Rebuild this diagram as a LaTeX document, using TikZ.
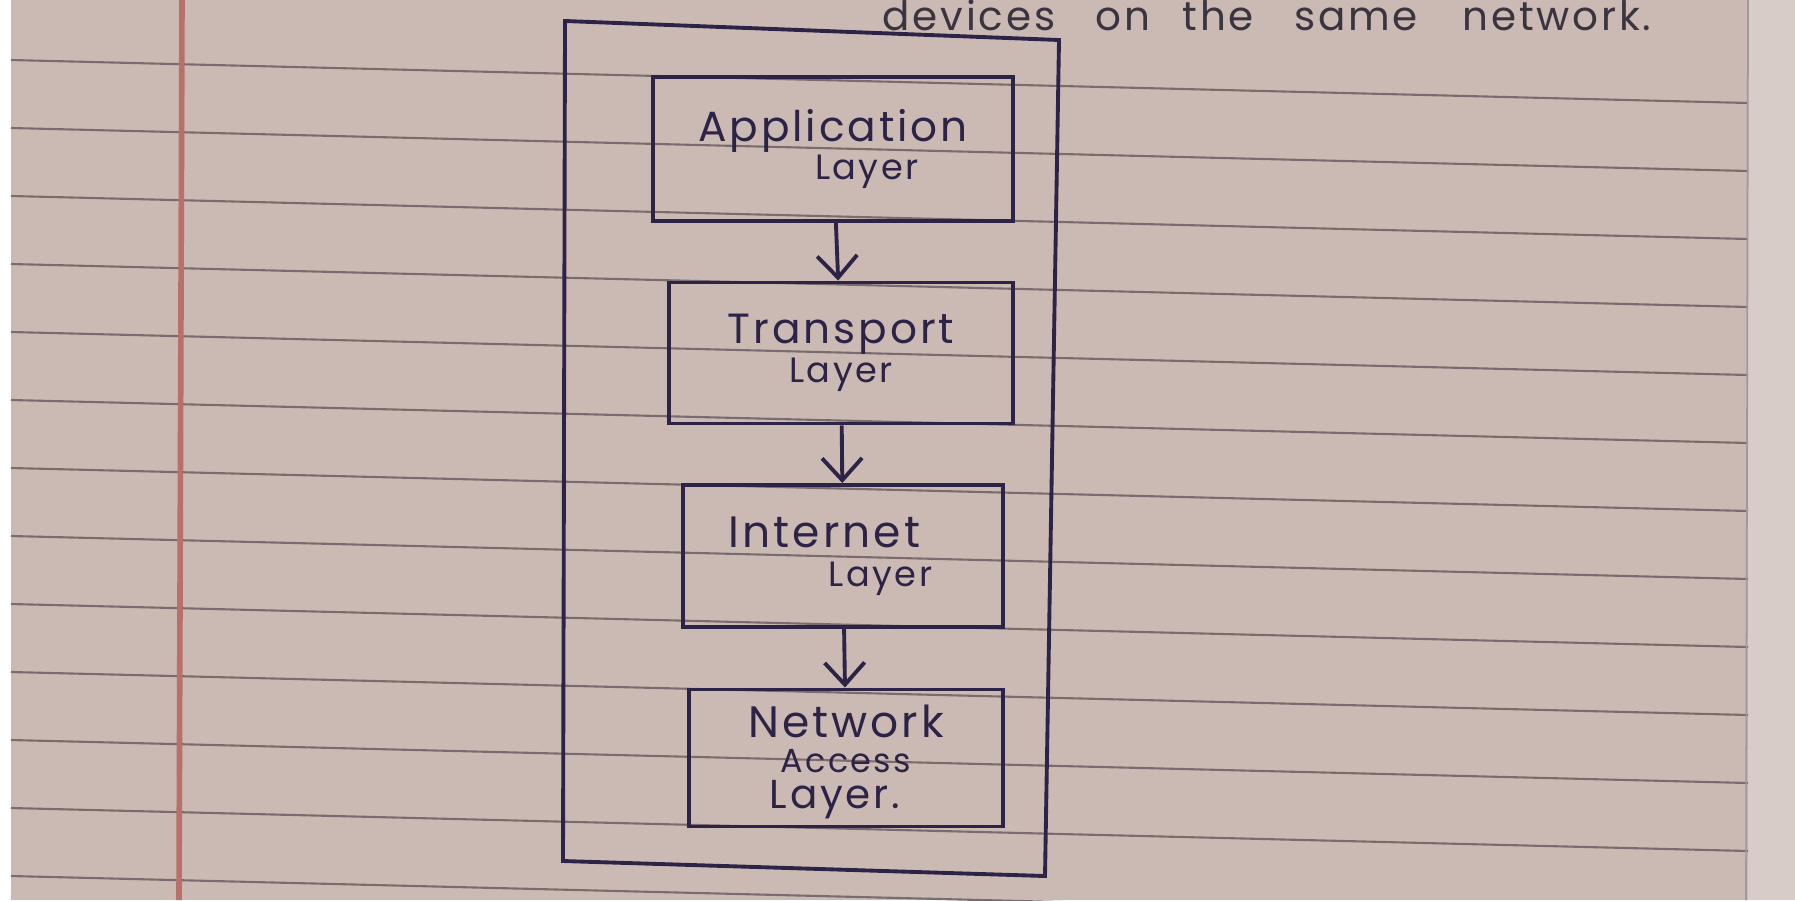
\documentclass[tikz,border=0pt]{standalone}
\usepackage{fontspec}
\newfontfamily\hand[LetterSpace=7]{Poppins}
\usetikzlibrary{arrows.meta,positioning}
\definecolor{paper}{HTML}{CBBAB4}
\definecolor{paperedge}{HTML}{D8CCC9}
\definecolor{rule}{HTML}{7A6B6E}
\definecolor{margin}{HTML}{B9706B}
\definecolor{ink}{HTML}{2D2346}
\definecolor{pencil}{HTML}{3A3440}
\tikzset{
    layer/.style={draw=ink, line width=1.1pt, rectangle, align=center, text=ink, inner sep=0pt,
      font=\hand\fontsize{12}{11}\selectfont},
    flow/.style={draw=ink, line width=1.1pt, -{Straight Barb[length=2.2mm,width=4mm]}}}

\begin{document}
\begin{tikzpicture}[x=0.01cm,y=-0.01cm]
\useasboundingbox (0,0) rectangle (1795,900);
\clip (0,0) rectangle (1795,900);
% page
\fill[paper] (0,0) rectangle (1795,900);
\fill[white] (0,0) rectangle (11,900);
\fill[paperedge] (1748,0) rectangle (1795,900);
\foreach \y in {60,128,...,880}
  \draw[rule, line width=0.6pt] (11,\y) -- (1748,\y+43);
\draw[margin, line width=1.6pt] (182,0) -- (179,900);
\draw[rule!70, line width=0.5pt] (1748,0) -- (1746,900);
% line above the picture
\node[anchor=base west, text=pencil, font=\hand\fontsize{11.5}{12}\selectfont] (note) at (870,30)
  {devices\hspace{1em}on\hspace{0.8em}the\hspace{1em}same\hspace{1.1em}network.};
% outer frame
\draw[ink, line width=1.1pt] (565,21) -- (1059,40) -- (1045,876) -- (563,861) -- cycle;
% the four layers
\node[layer, minimum width=3.59cm, minimum height=1.44cm] (app) at (833,149)
  {Application\\\hspace*{1.6em}{\fontsize{10}{11}\selectfont Layer}};
\node[layer, minimum width=3.43cm, minimum height=1.41cm] (trans) at (841,353)
  {Transport\\{\fontsize{10}{11}\selectfont Layer}};
\node[layer, minimum width=3.19cm, minimum height=1.42cm, font=\hand\fontsize{12.5}{11}\selectfont] (inet) at (843,556)
  {Internet\hspace*{0.85em}\\\hspace*{1.7em}{\fontsize{10}{11}\selectfont Layer}};
\node[layer, minimum width=3.13cm, minimum height=1.37cm, font=\hand\fontsize{12.5}{10.2}\selectfont] (nal) at (846,758)
  {\\[0.1em]Network\hspace*{0.5em}\\{\fontsize{9.5}{10.2}\selectfont Access}\hspace*{0.5em}\\{\fontsize{11.5}{10.2}\selectfont Layer.}\hspace*{0.5em}};
% arrows
\draw[flow] (app) -- (trans);
\draw[flow] (trans) -- (inet);
\draw[flow] (inet) -- (nal);
\end{tikzpicture}
\end{document}
